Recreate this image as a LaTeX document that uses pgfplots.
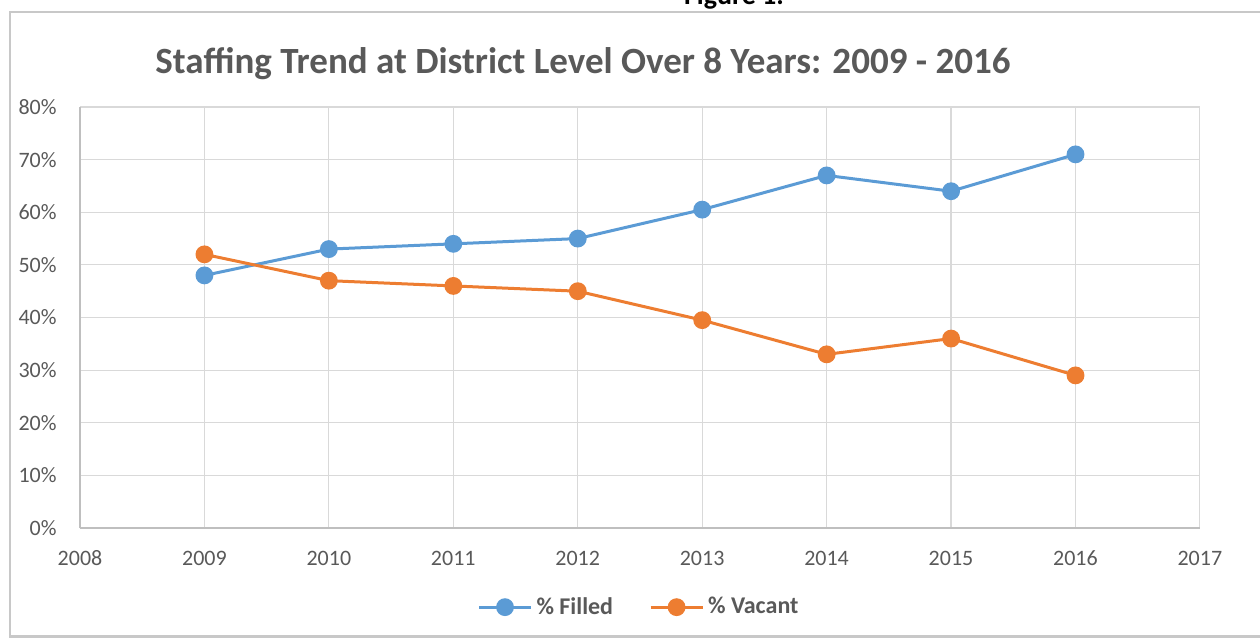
\documentclass[border=0pt]{standalone}
\usepackage{fontspec}
\setmainfont{Carlito}
\usepackage{pgfplots}
\pgfplotsset{compat=1.18}
\definecolor{fblue}{RGB}{91,155,213}
\definecolor{forange}{RGB}{237,125,49}
\definecolor{tgrey}{RGB}{89,89,89}
\definecolor{ggrey}{RGB}{217,217,217}
\definecolor{agrey}{RGB}{191,191,191}
\definecolor{fgrey}{RGB}{200,200,200}
\begin{document}
\begin{tikzpicture}[x=1pt,y=1pt]
\useasboundingbox (0,0) rectangle (630,-319);
\draw[fgrey, line width=1.2pt] (640,-318.3) -- (5,-318.3) -- (5,-6) -- (640,-6);
\node[anchor=base, font=\fontsize{14}{16}\selectfont\bfseries] at (367,-2) {Figure 1.};
\node[anchor=base, text=tgrey, font=\fontsize{18.5}{21}\selectfont\bfseries] at (291.5,-36.5) {Staffing Trend at District Level Over 8 Years: 2009 - 2016};
\begin{axis}[at={(40pt,-264pt)}, anchor=south west, scale only axis,
  width=560pt, height=210.5pt,
  xmin=2008, xmax=2017, ymin=0, ymax=80,
  xtick={2008,2009,...,2017}, ytick={0,10,...,80},
  xticklabels={2008,2009,2010,2011,2012,2013,2014,2015,2016,2017},
  yticklabels={0\%,10\%,20\%,30\%,40\%,50\%,60\%,70\%,80\%},
  major tick length=0pt,
  grid=major, major grid style={ggrey, line width=0.6pt},
  axis x line*=bottom, axis y line*=left,
  axis line style={agrey, line width=0.8pt, -},
  tick label style={text=tgrey, font=\fontsize{11}{13}\selectfont, inner sep=0pt},
  xticklabel style={anchor=center, yshift=-15pt},
  yticklabel style={anchor=east, xshift=-11.5pt},
  legend style={at={(0.5,-0.188)}, anchor=center, draw=none, fill=none,
    font=\fontsize{12}{14}\selectfont\bfseries, text=tgrey,
    /tikz/every even column/.append style={column sep=16pt},
    inner sep=0pt},
  legend columns=2,
  legend image code/.code={\draw[mark repeat=2,mark phase=2,#1] plot coordinates {(0pt,0pt) (13pt,0pt) (26pt,0pt)};},
]
\addplot[fblue, line width=1.5pt, mark=*, mark size=3.7pt] coordinates {
(2009,48) (2010,53) (2011,54) (2012,55) (2013,60.5) (2014,67) (2015,64) (2016,71)};
\addlegendentry{\% Filled}
\addplot[forange, line width=1.5pt, mark=*, mark size=3.7pt] coordinates {
(2009,52) (2010,47) (2011,46) (2012,45) (2013,39.5) (2014,33) (2015,36) (2016,29)};
\addlegendentry{\% Vacant}
\end{axis}
\end{tikzpicture}
\end{document}
